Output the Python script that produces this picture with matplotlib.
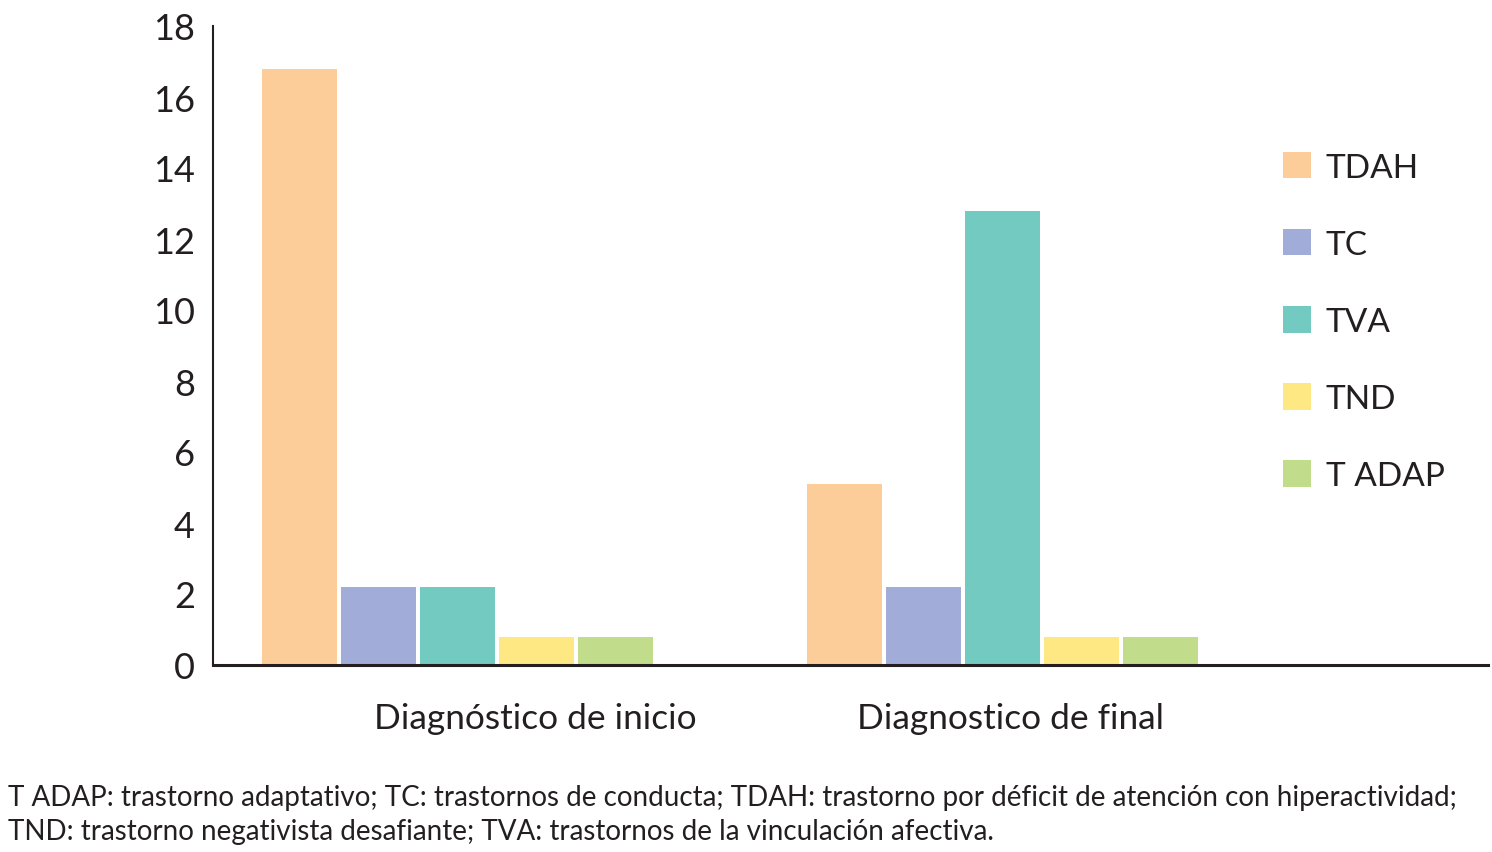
import matplotlib
matplotlib.use('Agg')
import matplotlib.pyplot as plt
import numpy as np

plt.rcParams['font.family'] = ['Lato', 'DejaVu Sans']

# data
series = ['TDAH', 'TC', 'TVA', 'TND', 'T ADAP']
colors = ['#FCCD98', '#A1ACD8', '#72CAC0', '#FEE883', '#C1DC8A']
groups = ['Diagnóstico de inicio', 'Diagnostico de final']
inicio = [16.8, 2.2, 2.2, 0.8, 0.8]
final = [5.1, 2.2, 12.8, 0.8, 0.8]
yticks = [0, 2, 4, 6, 8, 10, 12, 14, 16, 18]
nota = ('T ADAP: trastorno adaptativo; TC: trastornos de conducta; TDAH: trastorno por déficit de atención con hiperactividad;\n'
        'TND: trastorno negativista desafiante; TVA: trastornos de la vinculación afectiva.')

fig = plt.figure(figsize=(14.92, 8.53), dpi=100)
ax = fig.add_axes([213 / 1492, 187 / 853, 1275 / 1492, 639 / 853])

# bar positions (one unit per bar slot)
start = [1.09, 7.99]
label_x = [4.08, 10.1]
vals = np.array([inicio, final])
for i, name in enumerate(series):
    xs = [s + i for s in start]
    ax.bar(xs, vals[:, i], width=0.95, color=colors[i], label=name, linewidth=0)

ax.set_xlim(0, 1275 / 79)
ax.set_ylim(0, 18)
ax.set_yticks(yticks)
ax.set_yticklabels([str(t) for t in yticks], fontsize=26, color='#231f20')
ax.tick_params(axis='y', length=0, pad=13)
ax.set_xticks([])
for sp in ['top', 'right']:
    ax.spines[sp].set_visible(False)
ax.spines['left'].set_linewidth(1.5)
ax.spines['bottom'].set_linewidth(2.2)
ax.spines['left'].set_color('#231f20')
ax.spines['bottom'].set_color('#231f20')

for x, g in zip(label_x, groups):
    ax.text(x, -1.5, g, ha='center', va='center', fontsize=25.4, color='#231f20')

ax.legend(loc='upper left', bbox_to_anchor=(1283 / 1492, 1 - 153 / 853),
          bbox_transform=fig.transFigure, frameon=False, fontsize=24,
          handlelength=0.84, handleheight=0.84, handletextpad=0.45,
          labelspacing=1.39, borderpad=0, borderaxespad=0, labelcolor='#231f20')

fig.text(8 / 1492, 1 - 815 / 853, nota, fontsize=20, color='#231f20',
         ha='left', va='center', linespacing=1.36)

fig.savefig('out.png', dpi=100)
